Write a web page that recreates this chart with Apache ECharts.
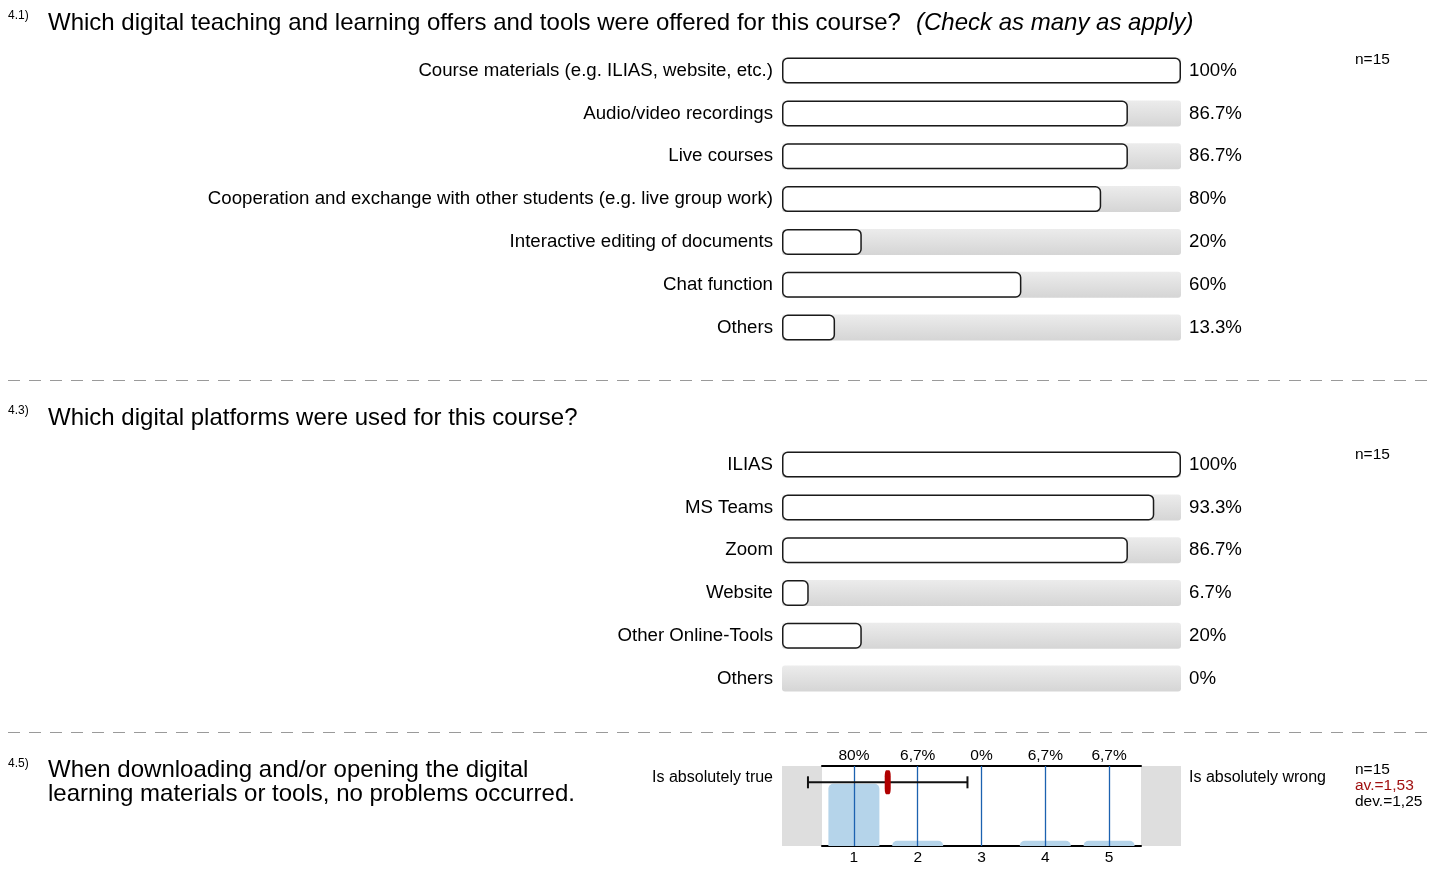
<!DOCTYPE html>
<html>
<head>
<meta charset="utf-8">
<title>Digital teaching survey</title>
<script src="https://cdn.jsdelivr.net/npm/echarts@6/dist/echarts.min.js"></script>
<style>
  html, body { margin: 0; padding: 0; background: #fff; }
  #chart { width: 1440px; height: 877px; }
</style>
</head>
<body>
<div id="chart"></div>
<script>
// 4.1) offers and tools
const q1Categories = [
  'Course materials (e.g. ILIAS, website, etc.)',
  'Audio/video recordings',
  'Live courses',
  'Cooperation and exchange with other students (e.g. live group work)',
  'Interactive editing of documents',
  'Chat function',
  'Others'
]
const q1Values = [100, 86.7, 86.7, 80, 20, 60, 13.3]

// 4.3) platforms
const q2Categories = ['ILIAS', 'MS Teams', 'Zoom', 'Website', 'Other Online-Tools', 'Others']
const q2Values = [100, 93.3, 86.7, 6.7, 20, 0]

// 4.5) scale question
const q3Scale = [1, 2, 3, 4, 5]
const q3Values = [80, 6.7, 0, 6.7, 6.7]
const q3Labels = ['80%', '6,7%', '0%', '6,7%', '6,7%']
const q3Mean = 1.53
const q3Dev = 1.25
const nAnswers = 15

const FONT = '"Liberation Sans", Arial, Helvetica, sans-serif'
const ERR_LEVEL = 82

const trackColor = new echarts.graphic.LinearGradient(0, 0, 0, 1, [
  { offset: 0, color: '#ececec' },
  { offset: 1, color: '#d5d5d5' }
])

function pct(v) {
  return v + '%'
}

function trackSeries(values, idx) {
  return {
    type: 'bar',
    xAxisIndex: idx,
    yAxisIndex: idx,
    silent: true,
    barWidth: 26,
    z: 1,
    data: values.map(() => 100),
    itemStyle: { color: trackColor, borderRadius: 3 },
    label: {
      show: true,
      position: 'right',
      distance: 8,
      color: '#000',
      fontFamily: FONT,
      fontSize: 18.67,
      formatter: (p) => pct(values[p.dataIndex])
    }
  }
}

function valueSeries(values, idx) {
  return {
    type: 'bar',
    xAxisIndex: idx,
    yAxisIndex: idx,
    silent: true,
    barWidth: 26,
    barGap: '-100%',
    z: 3,
    data: values.map((v) => ({
      value: v,
      itemStyle: v > 0 ? {} : { borderWidth: 0, opacity: 0 }
    })),
    itemStyle: {
      color: '#fff',
      borderColor: '#1a1a1a',
      borderWidth: 1.5,
      borderRadius: 5
    }
  }
}

function catAxis(data, idx) {
  return {
    type: 'category',
    gridIndex: idx,
    data: data,
    inverse: true,
    axisLine: { show: false },
    axisTick: { show: false },
    axisLabel: { color: '#000', fontFamily: FONT, fontSize: 18.67, margin: 9 }
  }
}

function txt(text, x, y, size, extra) {
  return {
    type: 'text',
    z: 10,
    style: Object.assign({
      text: text,
      x: x,
      y: y,
      fill: '#000',
      fontFamily: FONT,
      fontSize: size,
      textVerticalAlign: 'middle'
    }, extra || {})
  }
}

function dashed(y) {
  return {
    type: 'line',
    z: 0,
    shape: { x1: 8, y1: y, x2: 1430, y2: y },
    style: { stroke: '#9a9a9a', lineWidth: 1, lineDash: [12, 9] }
  }
}

const options = {
  backgroundColor: '#fff',
  animation: false,
  grid: [
    { left: 782, top: 49.2, width: 399, height: 299.8 },
    { left: 782, top: 443.2, width: 399, height: 256.8 },
    { left: 822, top: 766, width: 319, height: 80 }
  ],
  xAxis: [
    { type: 'value', gridIndex: 0, min: 0, max: 100, show: false },
    { type: 'value', gridIndex: 1, min: 0, max: 100, show: false },
    {
      type: 'value', gridIndex: 2, min: 0.5, max: 5.5, position: 'bottom',
      axisLine: { show: true, lineStyle: { color: '#000', width: 2 } },
      axisTick: { show: false },
      splitLine: { show: false },
      axisLabel: {
        customValues: q3Scale,
        color: '#000', fontFamily: FONT, fontSize: 15.5, margin: 4
      }
    },
    {
      type: 'value', gridIndex: 2, min: 0.5, max: 5.5, position: 'top',
      axisLine: { show: true, lineStyle: { color: '#000', width: 2 } },
      axisTick: { show: false },
      splitLine: { show: false },
      axisLabel: {
        customValues: q3Scale,
        formatter: (v) => q3Labels[Math.round(v) - 1],
        color: '#000', fontFamily: FONT, fontSize: 15.5, margin: 2
      }
    }
  ],
  yAxis: [
    catAxis(q1Categories, 0),
    catAxis(q2Categories, 1),
    { type: 'value', gridIndex: 2, min: 0, max: 103, show: false }
  ],
  series: [
    trackSeries(q1Values, 0),
    valueSeries(q1Values, 0),
    trackSeries(q2Values, 1),
    valueSeries(q2Values, 1),
    {
      type: 'bar',
      xAxisIndex: 2,
      yAxisIndex: 2,
      silent: true,
      barWidth: 51,
      z: 2,
      data: q3Scale.map((x, i) => [x, q3Values[i]]),
      itemStyle: { color: '#b5d4ea', borderRadius: [5, 5, 0, 0] },
      markLine: {
        silent: true,
        symbol: 'none',
        label: { show: false },
        lineStyle: { color: '#1c62b0', width: 1.3, type: 'solid', opacity: 1 },
        data: q3Scale.map((x) => ({ xAxis: x }))
      }
    },
    {
      // standard deviation whisker
      type: 'custom',
      xAxisIndex: 2,
      yAxisIndex: 2,
      silent: true,
      clip: false,
      z: 5,
      data: [[q3Mean - q3Dev, q3Mean + q3Dev, ERR_LEVEL]],
      renderItem: function (params, api) {
        const a = api.coord([api.value(0), api.value(2)])
        const b = api.coord([api.value(1), api.value(2)])
        const st = { stroke: '#111', lineWidth: 2 }
        return {
          type: 'group',
          children: [
            { type: 'line', shape: { x1: a[0], y1: a[1], x2: b[0], y2: b[1] }, style: st },
            { type: 'line', shape: { x1: a[0], y1: a[1] - 6, x2: a[0], y2: a[1] + 6 }, style: st },
            { type: 'line', shape: { x1: b[0], y1: b[1] - 6, x2: b[0], y2: b[1] + 6 }, style: st }
          ]
        }
      }
    },
    {
      type: 'scatter',
      xAxisIndex: 2,
      yAxisIndex: 2,
      silent: true,
      z: 6,
      symbol: 'roundRect',
      symbolSize: [6, 24],
      data: [[q3Mean, ERR_LEVEL]],
      itemStyle: { color: '#b00000', opacity: 1 }
    }
  ],
  graphic: [
    // section 4.1
    txt('4.1)', 8, 16, 12),
    txt('Which digital teaching and learning offers and tools were offered for this course?', 48, 23, 24),
    txt('(Check as many as apply)', 916, 23, 24, { fontStyle: 'italic' }),
    txt('n=' + nAnswers, 1355, 60, 15.5),
    dashed(380.5),
    // section 4.3
    txt('4.3)', 8, 411, 12),
    txt('Which digital platforms were used for this course?', 48, 418, 24),
    txt('n=' + nAnswers, 1355, 455, 15.5),
    dashed(732.5),
    // section 4.5
    txt('4.5)', 8, 764, 12),
    txt('When downloading and/or opening the digital\nlearning materials or tools, no problems occurred.', 48, 758, 24,
      { textVerticalAlign: 'top', lineHeight: 24 }),
    txt('Is absolutely true', 773, 778, 16, { textAlign: 'right' }),
    txt('Is absolutely wrong', 1189, 778, 16),
    txt('n=' + nAnswers, 1355, 770, 15.5),
    txt('av.=' + String(q3Mean).replace('.', ','), 1355, 786, 15.5, { fill: '#a01010' }),
    txt('dev.=' + String(q3Dev).replace('.', ','), 1355, 802, 15.5),
    { type: 'rect', z: 0, shape: { x: 782, y: 766, width: 40, height: 80 }, style: { fill: '#dedede' } },
    { type: 'rect', z: 0, shape: { x: 1141, y: 766, width: 40, height: 80 }, style: { fill: '#dedede' } }
  ]
}

const myChart = echarts.init(document.getElementById('chart'))
myChart.setOption(options)
</script>
</body>
</html>
